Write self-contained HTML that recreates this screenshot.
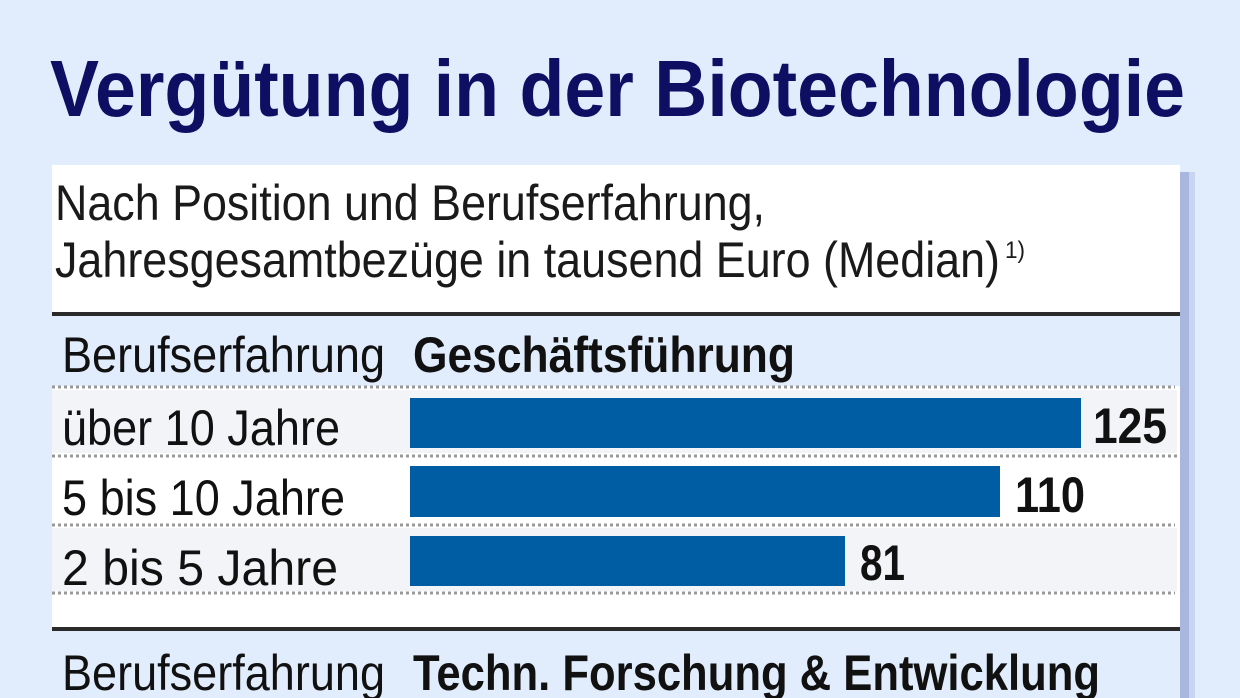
<!DOCTYPE html>
<html><head><meta charset="utf-8"><style>
html,body{margin:0;padding:0;background:#e1ecfc;}
svg{display:block}
</style></head><body>
<svg width="1240" height="698" viewBox="0 0 1240 698" xmlns="http://www.w3.org/2000/svg" font-family="Liberation Sans, Arial, sans-serif">
<rect width="1240" height="698" fill="#e1ecfc"/>
<text x="50" y="116" font-size="80" font-weight="bold" fill="#0e0e63" textLength="1135" lengthAdjust="spacingAndGlyphs">Vergütung in der Biotechnologie</text>
<rect x="1180" y="172" width="9" height="526" fill="#a9b6de"/>
<rect x="1189" y="172" width="6" height="526" fill="#c8d4f0"/>
<rect x="52" y="165" width="1128" height="533" fill="#ffffff"/>
<text x="55" y="220" font-size="50" fill="#1a1a1a" textLength="710" lengthAdjust="spacingAndGlyphs">Nach Position und Berufserfahrung,</text>
<text x="55" y="277" font-size="50" fill="#1a1a1a" textLength="945" lengthAdjust="spacingAndGlyphs">Jahresgesamtbezüge in tausend Euro (Median)</text>
<text x="1005" y="258" font-size="24" fill="#1a1a1a" textLength="20" lengthAdjust="spacingAndGlyphs">1)</text>
<rect x="52" y="312" width="1128" height="4" fill="#2a2a2a"/>
<rect x="52" y="316" width="1128" height="70" fill="#e1ecfc"/>
<text x="62" y="372" font-size="50" fill="#111" textLength="323" lengthAdjust="spacingAndGlyphs">Berufserfahrung</text>
<text x="413" y="372" font-size="50" font-weight="bold" fill="#111" textLength="382" lengthAdjust="spacingAndGlyphs">Geschäftsführung</text>
<line x1="52" y1="387" x2="1175" y2="387" stroke="#999" stroke-width="3" stroke-dasharray="3,3"/>
<rect x="52" y="390" width="1125" height="63" fill="#f2f4f7"/>
<rect x="410" y="398" width="671" height="50" fill="#005ca3"/>
<text x="62" y="445" font-size="50" fill="#111" textLength="278" lengthAdjust="spacingAndGlyphs">über 10 Jahre</text>
<text x="1093" y="443" font-size="50" font-weight="bold" fill="#111" textLength="74" lengthAdjust="spacingAndGlyphs">125</text>
<line x1="52" y1="456" x2="1178" y2="456" stroke="#999" stroke-width="3" stroke-dasharray="3,3"/>
<rect x="410" y="466" width="590" height="51" fill="#005ca3"/>
<text x="62" y="515" font-size="50" fill="#111" textLength="283" lengthAdjust="spacingAndGlyphs">5 bis 10 Jahre</text>
<text x="1015" y="512" font-size="50" font-weight="bold" fill="#111" textLength="70" lengthAdjust="spacingAndGlyphs">110</text>
<line x1="52" y1="525" x2="1175" y2="525" stroke="#999" stroke-width="3" stroke-dasharray="3,3"/>
<rect x="52" y="528" width="1125" height="63" fill="#f2f4f7"/>
<rect x="410" y="536" width="435" height="50" fill="#005ca3"/>
<text x="62" y="585" font-size="50" fill="#111" textLength="276" lengthAdjust="spacingAndGlyphs">2 bis 5  Jahre</text>
<text x="860" y="580" font-size="50" font-weight="bold" fill="#111" textLength="45" lengthAdjust="spacingAndGlyphs">81</text>
<line x1="52" y1="593" x2="1175" y2="593" stroke="#999" stroke-width="3" stroke-dasharray="3,3"/>
<rect x="52" y="627" width="1128" height="4" fill="#2a2a2a"/>
<rect x="52" y="631" width="1128" height="67" fill="#e1ecfc"/>
<text x="62" y="690" font-size="50" fill="#111" textLength="323" lengthAdjust="spacingAndGlyphs">Berufserfahrung</text>
<text x="413" y="690" font-size="50" font-weight="bold" fill="#111" textLength="687" lengthAdjust="spacingAndGlyphs">Techn. Forschung &amp; Entwicklung</text>
</svg>
</body></html>
